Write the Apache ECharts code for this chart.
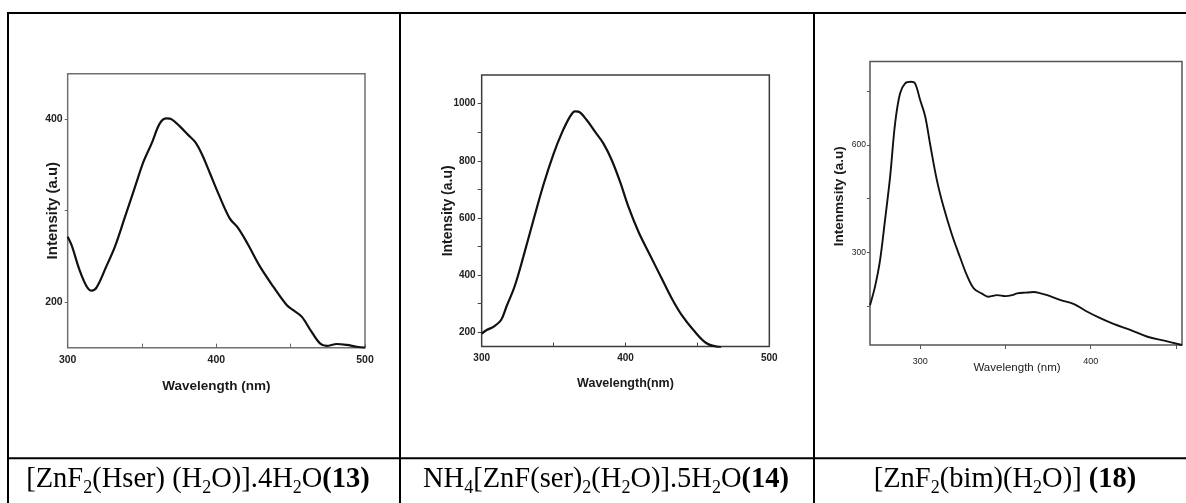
<!DOCTYPE html>
<html><head><meta charset="utf-8">
<script src="https://cdn.jsdelivr.net/npm/echarts@6/dist/echarts.min.js"></script>
<style>html,body{margin:0;padding:0;background:#fff}#c{width:1186px;height:503px}</style>
</head><body><div id="c"></div>
<script>
// ---- data: compound 13 ----
const wl13 = [300,302.7,308,312.8,316,319.5,326,331.8,338.6,345.3,351,356.5,362,366.6,370,375.6,381,385.6,390,395.7,401.3,409,414.8,421.5,429.4,438.3,447.3,451.8,457.4,464,469.7,474.2,481,487.7,494.4,500];
const int13 = [271.5,262,235,217,212.4,216,239,260.6,293.4,326,353.6,373.7,395.6,401,400,392,383,375.5,362.8,341,319,291.6,280.7,262.4,238.7,216.8,196.7,191,184,167.5,154.7,152,154,153,151,150];
// ---- data: compound 14 ----
const wl14 = [300,303.5,308.1,313.5,317.4,323,329,336,342.9,349.8,355.6,361.4,364.9,367.2,373,378.8,384.6,390.4,396.2,402,409,417,425.1,432.1,439,447.2,456.4,466.5];
const int14 = [195,208,219,243,292,362,464.7,593,715.5,822,896,954.5,973,972,943,902,861,803,727,639.5,552,470.6,389,319,260.6,208,161.5,147];
// ---- data: compound 18 ----
const wl18 = [270.6,273.5,276.5,279.4,282.4,285.3,288.2,291.2,294.5,297,300,302.9,305.9,309.8,313.7,318.6,323.5,327.5,331.4,336.3,340.2,345.1,350,353.9,356.9,361.8,366.7,370.6,374.5,382.4,390.2,398,405.9,413.7,423.5,433.3,443.1,453.5];
const int18 = [153,204,278.6,390,511,659,743,771,775.5,771,724.5,680,600,501.5,427,350,285,235,200,185,176.5,181,178.3,181,185.8,188,189.5,186,181,167,156,134.7,116,100,83.6,65,54,42];

// ---- axis ranges & ticks ----
const x13Range = [300, 500], y13Range = [150, 450];
const x13Ticks = [300, 350, 400, 450, 500], x13Labels = [300, 400, 500];
const y13Ticks = [200, 300, 400], y13Labels = [200, 400];

const x14Range = [300, 500], y14Range = [150, 1100];
const x14Ticks = [300, 350, 400, 450, 500], x14Labels = [300, 400, 500];
const y14Ticks = [200, 300, 400, 500, 600, 700, 800, 900, 1000], y14Labels = [200, 400, 600, 800, 1000];

const x18Range = [270.6, 453.5], y18Range = [42, 832];
const x18Ticks = [300, 350, 400, 450], x18Labels = [300, 400];
const y18Ticks = [150, 300, 450, 600, 750], y18Labels = [300, 600];

const captions = [
  '{n|[ZnF}{s|2}{n|(Hser) (H}{s|2}{n|O)].4H}{s|2}{n|O}{b|(13)}',
  '{n|NH}{s|4}{n|[ZnF(ser)}{s|2}{n|(H}{s|2}{n|O)].5H}{s|2}{n|O}{b|(14)}',
  '{n|[ZnF}{s|2}{n|(bim)(H}{s|2}{n|O)] }{b|(18)}'
];

const SANS = 'Liberation Sans, Arial, sans-serif';
const SERIF = 'Liberation Serif, Times New Roman, serif';
const pairs = (xs, ys) => xs.map((x, i) => [x, ys[i]]);
const plain = v => String(v);

function xAxis(gi, range, ticks, labels, o) {
  return {
    gridIndex: gi, type: 'value', min: range[0], max: range[1],
    axisLine: {show: false}, splitLine: {show: false},
    axisTick: {show: true, inside: o.tickInside, length: o.tickLen, customValues: ticks, lineStyle: {color: o.tickColor, width: 1}},
    axisLabel: {customValues: labels, formatter: plain, margin: o.labelMargin, fontFamily: SANS, fontWeight: o.labelWeight, fontSize: o.labelSize, color: '#222'},
    name: o.name, nameLocation: 'middle', nameGap: o.nameGap, nameMoveOverlap: false,
    nameTextStyle: {fontFamily: SANS, fontWeight: o.nameWeight, fontSize: o.nameSize, color: '#1a1a1a', padding: o.namePad || 0}
  };
}
function yAxis(gi, range, ticks, labels, o) {
  return {
    gridIndex: gi, type: 'value', min: range[0], max: range[1],
    axisLine: {show: false}, splitLine: {show: false},
    axisTick: {show: true, inside: false, length: o.tickLen, customValues: ticks, lineStyle: {color: o.tickColor, width: 1}},
    axisLabel: {customValues: labels, formatter: plain, margin: o.labelMargin, fontFamily: SANS, fontWeight: o.labelWeight, fontSize: o.labelSize, color: '#222'},
    name: o.name, nameLocation: 'middle', nameGap: o.nameGap, nameRotate: 90, nameMoveOverlap: false,
    nameTextStyle: {fontFamily: SANS, fontWeight: 'bold', fontSize: o.nameSize, color: '#1a1a1a', padding: o.namePad || 0}
  };
}

const chart = echarts.init(document.getElementById('c'));
const lineStyleT = {stroke: '#000', lineWidth: 2};
const tableLines = [
  [8, 13, 1186, 13], [8, 12, 8, 503], [8, 458.3, 1186, 458.3], [400, 13, 400, 503], [814, 13, 814, 503]
].map(s => ({type: 'line', shape: {x1: s[0], y1: s[1], x2: s[2], y2: s[3]}, style: lineStyleT, silent: true}));

const capRich = {
  n: {fontFamily: SERIF, fontSize: 28.5, lineHeight: 34, color: '#000'},
  s: {fontFamily: SERIF, fontSize: 18, lineHeight: 18, verticalAlign: 'bottom', color: '#000'},
  b: {fontFamily: SERIF, fontSize: 28.5, lineHeight: 34, fontWeight: 'bold', color: '#000'}
};
const capX = [198, 606, 1005];
const capTexts = captions.map((t, i) => ({
  type: 'text', x: capX[i], y: 480,
  style: {text: t, rich: capRich, align: 'center', verticalAlign: 'middle'}, silent: true
}));

chart.setOption({
  animation: false,
  backgroundColor: '#fff',
  grid: [
    {left: 67.67, top: 73.67, width: 297.33, height: 274, show: true, borderColor: '#707070', borderWidth: 1.5, backgroundColor: 'transparent', outerBoundsMode: 'none'},
    {left: 481.67, top: 75.08, width: 287.66, height: 271.5, show: true, borderColor: '#3c3c3c', borderWidth: 1.5, backgroundColor: 'transparent', outerBoundsMode: 'none'},
    {left: 870, top: 61.5, width: 312, height: 283.5, show: true, borderColor: '#555', borderWidth: 1.5, backgroundColor: 'transparent', outerBoundsMode: 'none'}
  ],
  xAxis: [
    xAxis(0, x13Range, x13Ticks, x13Labels, {tickInside: true, tickLen: 4, tickColor: '#666', labelMargin: 7, labelWeight: 'bold', labelSize: 10.5, name: 'Wavelength (nm)', nameGap: 32, nameWeight: 'bold', nameSize: 13.5}),
    xAxis(1, x14Range, x14Ticks, x14Labels, {tickInside: true, tickLen: 4, tickColor: '#444', labelMargin: 7, labelWeight: 'bold', labelSize: 10, name: 'Wavelength(nm)', nameGap: 30, nameWeight: 'bold', nameSize: 12.5}),
    xAxis(2, x18Range, x18Ticks, x18Labels, {tickInside: false, tickLen: 4, tickColor: '#555', labelMargin: 12, labelWeight: 'normal', labelSize: 9, name: 'Wavelength (nm)', nameGap: 17, nameWeight: 'normal', nameSize: 11.5, namePad: [0, 18, 0, 0]})
  ],
  yAxis: [
    yAxis(0, y13Range, y13Ticks, y13Labels, {tickLen: 3, tickColor: '#666', labelMargin: 5, labelWeight: 'bold', labelSize: 10.5, name: 'Intensity (a.u)', nameGap: 7, nameSize: 15}),
    yAxis(1, y14Range, y14Ticks, y14Labels, {tickLen: 4, tickColor: '#444', labelMargin: 6, labelWeight: 'bold', labelSize: 10, name: 'Intensity (a.u)', nameGap: 27, nameSize: 14}),
    yAxis(2, y18Range, y18Ticks, y18Labels, {tickLen: 3, tickColor: '#555', labelMargin: 4, labelWeight: 'normal', labelSize: 8.5, name: 'Intenmsity (a.u)', nameGap: 24, nameSize: 13.5, namePad: [0, 0, 0, 14]})
  ],
  series: [
    {type: 'line', xAxisIndex: 0, yAxisIndex: 0, data: pairs(wl13, int13), showSymbol: false, smooth: 0.35, clip: true, lineStyle: {color: '#111', width: 2.2}},
    {type: 'line', xAxisIndex: 1, yAxisIndex: 1, data: pairs(wl14, int14), showSymbol: false, smooth: 0.35, clip: true, lineStyle: {color: '#111', width: 2.2}},
    {type: 'line', xAxisIndex: 2, yAxisIndex: 2, data: pairs(wl18, int18), showSymbol: false, smooth: 0.35, clip: true, lineStyle: {color: '#111', width: 1.9}}
  ],
  graphic: tableLines.concat(capTexts)
});
</script></body></html>
